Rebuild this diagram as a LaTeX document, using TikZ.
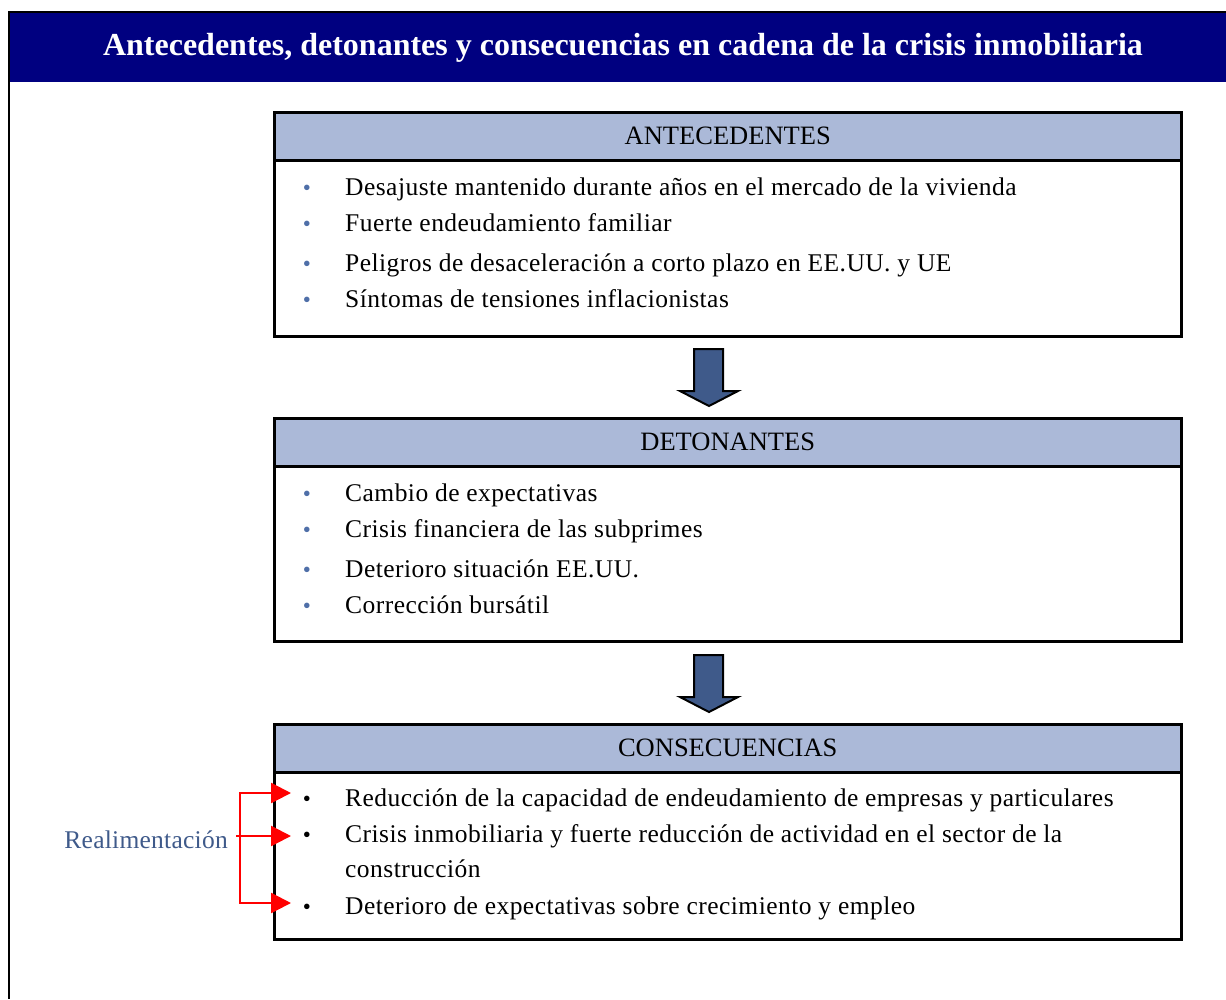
\documentclass[tikz,border=0pt]{standalone}
\usepackage{fontspec}
\setmainfont{Liberation Serif}
\newfontfamily\spaced[LetterSpace=1.8]{Liberation Serif}
\newfontfamily\spacedr[LetterSpace=1]{Liberation Serif}
\usetikzlibrary{arrows.meta}
\definecolor{navy}{HTML}{000080}
\definecolor{hdr}{HTML}{ABB9D8}
\definecolor{arw}{HTML}{3F5A8A}
\definecolor{bul}{HTML}{4F6FA8}
\definecolor{realc}{HTML}{3F5A8A}
\begin{document}
\begin{tikzpicture}[x=1pt,y=-1pt,
  hdrbox/.style={draw=black, line width=2.5pt, fill=hdr, minimum width=907pt, minimum height=48pt, anchor=north west, inner sep=0pt, font=\fontsize{26.5}{30}\selectfont},
  bodybox/.style={draw=black, line width=2.5pt, fill=white, minimum width=907pt, anchor=north west, inner sep=0pt},
  item/.style={anchor=base west, inner sep=0pt, font=\spaced\fontsize{25.5}{29}\selectfont},
  bul/.style={anchor=base, inner sep=0pt, text=bul, font=\fontsize{23}{26}\selectfont},
  bulk/.style={anchor=base, inner sep=0pt, text=black, font=\fontsize{23}{26}\selectfont},
  blockarrow/.style={fill=arw, draw=black, line width=2pt, line join=miter},
  fb/.style={draw=red, line width=2.5pt, -{Triangle[width=20pt,length=20pt]}}
]
\useasboundingbox (0,0) rectangle (1226,999);
% frame and title
\fill[navy] (8,12) rectangle (1226,82);
\draw[line width=2.5pt] (1226,12) -- (9,12) -- (9,999);
\node[text=white, font=\bfseries\fontsize{32}{36}\selectfont, inner sep=0pt] (title) at (623,48) {Antecedentes, detonantes y consecuencias en cadena de la crisis inmobiliaria};

% box 1
\node[bodybox, minimum height=176pt] (b1) at (273,159) {};
\node[hdrbox] (h1) at (273,111) {ANTECEDENTES};
\foreach \yy/\tt [count=\i] in {195/{Desajuste mantenido durante años en el mercado de la vivienda},
  231/{Fuerte endeudamiento familiar},
  271/{Peligros de desaceleración a corto plazo en EE.UU. y UE},
  307/{Síntomas de tensiones inflacionistas}}{
  \node[bul] (bA\i) at (307,\yy) {•};
  \node[item] (tA\i) at (345,\yy) {\tt};
}

% arrow 1
\path[blockarrow] (694,349) -- (723,349) -- (723,391) -- (738,391) -- (709,406) -- (680,391) -- (694,391) -- cycle;

% box 2
\node[bodybox, minimum height=175pt] (b2) at (273,465) {};
\node[hdrbox] (h2) at (273,417) {DETONANTES};
\foreach \yy/\tt [count=\i] in {501/{Cambio de expectativas},
  537/{Crisis financiera de las subprimes},
  577/{Deterioro situación EE.UU.},
  613/{Corrección bursátil}}{
  \node[bul] (bB\i) at (307,\yy) {•};
  \node[item] (tB\i) at (345,\yy) {\tt};
}

% arrow 2
\path[blockarrow] (694,655) -- (723,655) -- (723,697) -- (738,697) -- (709,712) -- (680,697) -- (694,697) -- cycle;

% box 3
\node[bodybox, minimum height=167pt] (b3) at (273,771) {};
\node[hdrbox] (h3) at (273,723) {CONSECUENCIAS};
\node[bulk] (bC1) at (307,806) {•};
\node[item] (tC1) at (345,806) {Reducción de la capacidad de endeudamiento de empresas y particulares};
\node[bulk] (bC2) at (307,842) {•};
\node[item] (tC2) at (345,842) {Crisis inmobiliaria y fuerte reducción de actividad en el sector de la};
\node[item] (tC2b) at (345,877) {construcción};
\node[bulk] (bC3) at (307,914) {•};
\node[item] (tC3) at (345,914) {Deterioro de expectativas sobre crecimiento y empleo};

% feedback
\node[anchor=east, text=realc, inner sep=0pt, font=\spacedr\fontsize{25.5}{29}\selectfont] (real) at (228,840) {Realimentación};
\coordinate (ft) at (240,792);
\coordinate (fb) at (240,904);
\draw[red, line width=2.5pt] (ft) -- (fb);
\coordinate (e1) at (291,793);
\coordinate (e2) at (291,836);
\coordinate (e3) at (291,903);
\draw[fb] (239,793) -- (e1);
\draw[fb] (236,836) -- (e2);
\draw[fb] (239,903) -- (e3);
\end{tikzpicture}
\end{document}
